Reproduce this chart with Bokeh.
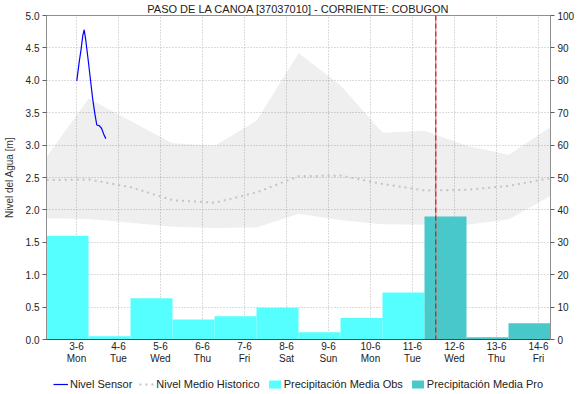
from bokeh.plotting import figure
from bokeh.layouts import column
from bokeh.models import (Range1d, LinearAxis, FixedTicker, Span, Legend, LegendItem,
                          PrintfTickFormatter)
from bokeh.embed import file_html
from bokeh.resources import INLINE

TITLE = "PASO DE LA CANOA [37037010] - CORRIENTE: COBUGON"

# ---- data ----
days = [3, 4, 5, 6, 7, 8, 9, 10, 11, 12, 13, 14]
date_labels = ["3-6", "4-6", "5-6", "6-6", "7-6", "8-6", "9-6", "10-6", "11-6",
               "12-6", "13-6", "14-6"]
weekday_labels = ["Mon", "Tue", "Wed", "Thu", "Fri", "Sat", "Sun", "Mon", "Tue",
                  "Wed", "Thu", "Fri"]

obs_days = [3, 4, 5, 6, 7, 8, 9, 10, 11]
precip_obs = [32.0, 1.0, 12.7, 6.2, 7.2, 9.8, 2.2, 6.6, 14.5]
pro_days = [12, 13, 14]
precip_pro = [38.0, 0.7, 5.0]

hist_time = [2.29, 3.29, 4.29, 5.29, 6.29, 7.29, 8.29, 9.29, 10.29, 11.29, 12.29, 13.29, 14.29]
hist_max = [2.82, 3.72, 3.37, 3.03, 2.99, 3.38, 4.42, 3.92, 3.19, 3.22, 2.99, 2.85, 3.28]
hist_min = [1.87, 1.86, 1.80, 1.74, 1.72, 1.73, 1.94, 1.84, 1.78, 1.77, 1.77, 1.85, 2.22]
hist_mean = [2.46, 2.47, 2.35, 2.15, 2.11, 2.27, 2.52, 2.53, 2.40, 2.30, 2.31, 2.37, 2.49]

sensor_time = [3.007, 3.064, 3.112, 3.15, 3.183, 3.221, 3.279, 3.34, 3.38, 3.436,
               3.483, 3.54, 3.595, 3.66, 3.70]
sensor_level = [3.99, 4.28, 4.49, 4.69, 4.78, 4.62, 4.31, 3.97, 3.74, 3.49,
                3.31, 3.30, 3.26, 3.15, 3.10]

now_time = 11.555

level_ticks = [0.0, 0.5, 1.0, 1.5, 2.0, 2.5, 3.0, 3.5, 4.0, 4.5, 5.0]
precip_ticks = [0, 10, 20, 30, 40, 50, 60, 70, 80, 90, 100]

# ---- styling ----
FONT = "Liberation Sans"
BAR_START = -0.714
BAR_END = 0.286
OBS_COLOR = "#55FFFF"
PRO_COLOR = "#48C8C8"
MEAN_STYLE = dict(line_color="#c4c4c4", line_width=2, line_dash="2 4")
SENSOR_STYLE = dict(line_color="#0000ff", line_width=1.2)

p = figure(frame_width=504, frame_height=324,
           x_range=Range1d(2.286, 14.286), y_range=Range1d(0, 5),
           output_backend="svg", toolbar_location=None,
           min_border_left=46, min_border_right=2, min_border_top=0, min_border_bottom=0,
           title=TITLE, background_fill_color="white", border_fill_color="white")
p.title.text_font = FONT
p.title.text_font_size = "11px"
p.title.text_font_style = "normal"
p.title.align = "center"
p.title.text_color = "#222222"
p.title.standoff = 1
p.outline_line_color = "#909090"

p.extra_y_ranges = {"pp": Range1d(0, 100)}

# grids
for g in (p.xgrid[0], p.ygrid[0]):
    g.grid_line_color = "#b8b8b8"
    g.grid_line_dash = "1 2"
p.xgrid[0].ticker = FixedTicker(ticks=days)
p.ygrid[0].ticker = FixedTicker(ticks=level_ticks)

# historic band
p.varea(x=hist_time, y1=hist_min, y2=hist_max, fill_color="black", fill_alpha=0.062)

# precipitation bars
p.quad(left=[d + BAR_START for d in obs_days], right=[d + BAR_END for d in obs_days],
       bottom=0, top=precip_obs, y_range_name="pp", fill_color=OBS_COLOR, line_color=None)
p.quad(left=[d + BAR_START for d in pro_days], right=[d + BAR_END for d in pro_days],
       bottom=0, top=precip_pro, y_range_name="pp", fill_color=PRO_COLOR, line_color=None)

# historic mean and sensor
p.line(hist_time, hist_mean, **MEAN_STYLE)
p.line(sensor_time, sensor_level, **SENSOR_STYLE)

# now line
p.add_layout(Span(location=now_time, dimension="height", line_color="#f06060", line_width=1))
p.add_layout(Span(location=now_time, dimension="height", line_color="#b01818",
                  line_width=1, line_dash="5 3"))

# x axes: date line + weekday line
xa = p.xaxis[0]
xa.ticker = FixedTicker(ticks=days)
xa.major_label_overrides = {d: lab for d, lab in zip(days, date_labels)}
xa.axis_line_color = "#000000"
xa.axis_line_dash = "1 1"
xa.major_label_standoff = 2

xb = LinearAxis(ticker=FixedTicker(ticks=days),
                major_label_overrides={d: lab for d, lab in zip(days, weekday_labels)})
xb.axis_line_color = None
xb.major_label_standoff = 0
p.add_layout(xb, "below")

for a in (xa, xb):
    a.major_tick_line_color = None
    a.minor_tick_line_color = None
    a.major_tick_out = 0
    a.major_tick_in = 0
    a.major_label_text_font = FONT
    a.major_label_text_font_size = "10px"
    a.major_label_text_color = "#222222"

ya = p.yaxis[0]
ya.ticker = FixedTicker(ticks=level_ticks)
ya.formatter = PrintfTickFormatter(format="%.1f")
ya.axis_label = "Nivel del Agua [m]"
ya.axis_label_text_font = FONT
ya.axis_label_text_font_size = "10px"
ya.axis_label_text_font_style = "normal"
ya.axis_label_text_color = "#333333"
ya.axis_label_standoff = 8

ra = LinearAxis(y_range_name="pp", ticker=FixedTicker(ticks=precip_ticks))
p.add_layout(ra, "right")

for a in (ya, ra):
    a.axis_line_color = "#909090"
    a.major_tick_line_color = "#606060"
    a.major_tick_out = 4
    a.major_tick_in = 0
    a.minor_tick_line_color = None
    a.major_label_text_font = FONT
    a.major_label_text_font_size = "10px"
    a.major_label_text_color = "#222222"
    a.major_label_standoff = 3

# ---- legend strip (separate small figure, same series drawn off-view) ----
q = figure(frame_width=504, frame_height=18, x_range=Range1d(100, 101),
           y_range=Range1d(100, 101), output_backend="svg", toolbar_location=None,
           x_axis_location=None, y_axis_location=None,
           min_border_left=46, min_border_right=26, min_border_top=9, min_border_bottom=0,
           background_fill_color="white", border_fill_color="white")
q.outline_line_color = None
q.grid.visible = False
q.extra_y_ranges = {"pp": Range1d(1000, 1001)}
l_sensor = q.line(sensor_time, sensor_level, **SENSOR_STYLE)
l_mean = q.line(hist_time, hist_mean, **MEAN_STYLE)
l_obs = q.quad(left=[d + BAR_START for d in obs_days], right=[d + BAR_END for d in obs_days],
               bottom=0, top=precip_obs, y_range_name="pp", fill_color=OBS_COLOR,
               line_color=None)
l_pro = q.quad(left=[d + BAR_START for d in pro_days], right=[d + BAR_END for d in pro_days],
               bottom=0, top=precip_pro, y_range_name="pp", fill_color=PRO_COLOR,
               line_color=None)

legend = Legend(items=[
    LegendItem(label="Nivel Sensor", renderers=[l_sensor]),
    LegendItem(label="Nivel Medio Historico", renderers=[l_mean]),
    LegendItem(label="Precipitación Media Obs", renderers=[l_obs]),
    LegendItem(label="Precipitación Media Pro", renderers=[l_pro]),
], orientation="horizontal", location="center", border_line_color=None,
   background_fill_alpha=0, label_text_font=FONT, label_text_font_size="11px",
   label_text_color="#222222", glyph_width=15, glyph_height=10, spacing=7,
   label_standoff=2, padding=1, margin=0, label_height=12)
q.add_layout(legend, "center")

layout = column(p, q, spacing=0)
open("out.html", "w").write(file_html(layout, INLINE))
